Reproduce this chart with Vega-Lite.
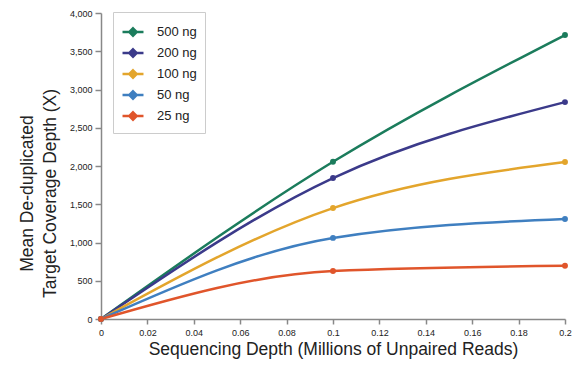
{
  "$schema": "https://vega.github.io/schema/vega-lite/v6.json",
  "autosize": "none",
  "width": 464,
  "height": 306,
  "padding": {"left": 101, "top": 13, "right": 9, "bottom": 53},
  "background": "white",
  "config": {
    "view": {"stroke": null},
    "font": "Liberation Sans",
    "axis": {"grid": false, "domainColor": "#888", "tickColor": "#888", "domainWidth": 1.5, "tickWidth": 1.5, "labelColor": "#222", "titleColor": "#222", "labelFont": "Liberation Sans", "titleFont": "Liberation Sans", "titleFontWeight": "normal"}
  },
  "data": {"values": [
    {"x": 0, "y": 0, "s": "500 ng"}, {"x": 0.1, "y": 2055, "s": "500 ng"}, {"x": 0.2, "y": 3712, "s": "500 ng"},
    {"x": 0, "y": 0, "s": "200 ng"}, {"x": 0.1, "y": 1843, "s": "200 ng"}, {"x": 0.2, "y": 2835, "s": "200 ng"},
    {"x": 0, "y": 0, "s": "100 ng"}, {"x": 0.1, "y": 1450, "s": "100 ng"}, {"x": 0.2, "y": 2052, "s": "100 ng"},
    {"x": 0, "y": 0, "s": "50 ng"}, {"x": 0.1, "y": 1060, "s": "50 ng"}, {"x": 0.2, "y": 1307, "s": "50 ng"},
    {"x": 0, "y": 0, "s": "25 ng"}, {"x": 0.1, "y": 627, "s": "25 ng"}, {"x": 0.2, "y": 695, "s": "25 ng"}
  ]},
  "encoding": {
    "x": {"field": "x", "type": "quantitative", "scale": {"domain": [0, 0.2], "nice": false},
      "axis": {"values": [0,0.02,0.04,0.06,0.08,0.1,0.12,0.14,0.16,0.18,0.2], "format": "~g", "labelFontSize": 9, "tickSize": 5, "labelPadding": 4, "title": "Sequencing Depth (Millions of Unpaired Reads)", "titleFontSize": 17.5, "titlePadding": 3, "labelFlush": false}},
    "y": {"field": "y", "type": "quantitative", "scale": {"domain": [0, 4000], "nice": false},
      "axis": {"values": [0,500,1000,1500,2000,2500,3000,3500,4000], "format": ",d", "labelFontSize": 9, "tickSize": 6, "labelPadding": 3, "title": ["Mean De-duplicated", "Target Coverage Depth (X)"], "titleFontSize": 17.5, "titlePadding": 10, "titleLineHeight": 23, "titleY": 180}},
    "color": {"field": "s", "type": "nominal", "sort": ["500 ng","200 ng","100 ng","50 ng","25 ng"],
      "scale": {"domain": ["500 ng","200 ng","100 ng","50 ng","25 ng"], "range": ["#1b7c5c","#3b3a8a","#e3a52c","#3f7fc0","#e0552b"]},
      "legend": {"title": null, "orient": "none", "legendX": 12, "legendY": -1, "labelFontSize": 13, "labelColor": "#222", "strokeColor": "#ccc", "padding": 8, "rowPadding": 0, "symbolType": "M-1,0L1,0M0,-0.35L0.35,0L0,0.35L-0.35,0Z", "symbolSize": 440, "symbolStrokeWidth": 2.5, "labelOffset": 12}}
  },
  "layer": [
    {"mark": {"type": "line", "interpolate": "monotone", "strokeWidth": 2.5}},
    {"mark": {"type": "point", "filled": true, "size": 35, "opacity": 1}}
  ]
}
